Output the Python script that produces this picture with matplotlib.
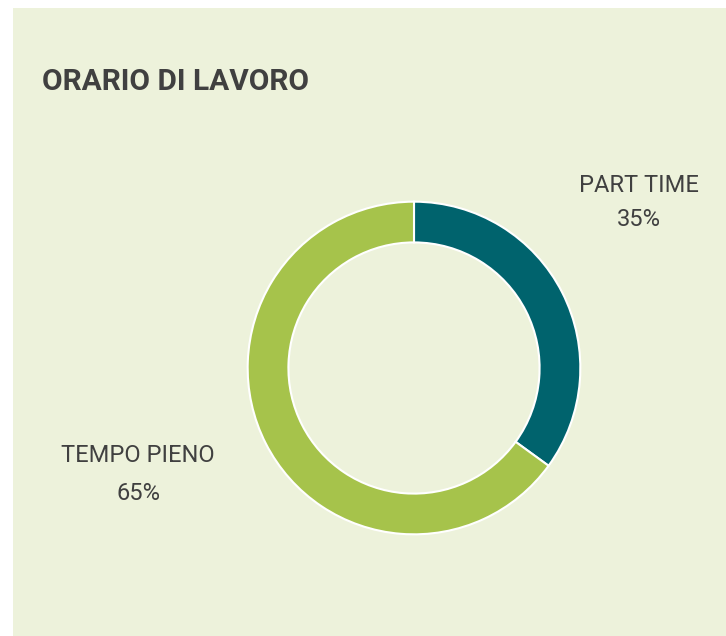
import matplotlib
matplotlib.use("Agg")
import matplotlib.pyplot as plt
from matplotlib.patches import Rectangle

# dati
categorie = ["PART TIME", "TEMPO PIENO"]
valori = [35, 65]
etichette_pct = ["35%", "65%"]
colori = ["#00636D", "#A6C34B"]

W, H = 726, 636
fig = plt.figure(figsize=(W / 100, H / 100), dpi=100, facecolor="white")

# pannello di sfondo
fig.patches.append(Rectangle((13 / W, 0), 1 - 13 / W, 1 - 8 / H, transform=fig.transFigure,
                             facecolor="#EDF2DB", edgecolor="none", zorder=-5))

# ciambella
cx, cy, r = 414, 368, 168
ax = fig.add_axes([(cx - r) / W, (H - cy - r) / H, 2 * r / W, 2 * r / H])
ax.patch.set_visible(False)
ax.pie(valori, colors=colori, startangle=90, counterclock=False,
       wedgeprops=dict(width=0.245, edgecolor="white", linewidth=1.5))
ax.set_xlim(-1.01, 1.01)
ax.set_ylim(-1.01, 1.01)
ax.set_aspect("equal")
ax.axis("off")

def px(x, y):
    return x / W, 1 - y / H

fig.text(*px(42, 82), "ORARIO DI LAVORO", fontsize=21.5, fontweight="bold",
         family="Roboto", color="#404040", ha="left", va="center")

fig.text(*px(639, 185), categorie[0], fontsize=17, family="Roboto", color="#404040",
         ha="center", va="center")
fig.text(*px(639, 219), etichette_pct[0], fontsize=17, family="Roboto", color="#404040",
         ha="center", va="center")
fig.text(*px(138, 455), categorie[1], fontsize=17, family="Roboto", color="#404040",
         ha="center", va="center")
fig.text(*px(138, 493), etichette_pct[1], fontsize=17, family="Roboto", color="#404040",
         ha="center", va="center")

fig.savefig("out.png", dpi=100, facecolor="white")
